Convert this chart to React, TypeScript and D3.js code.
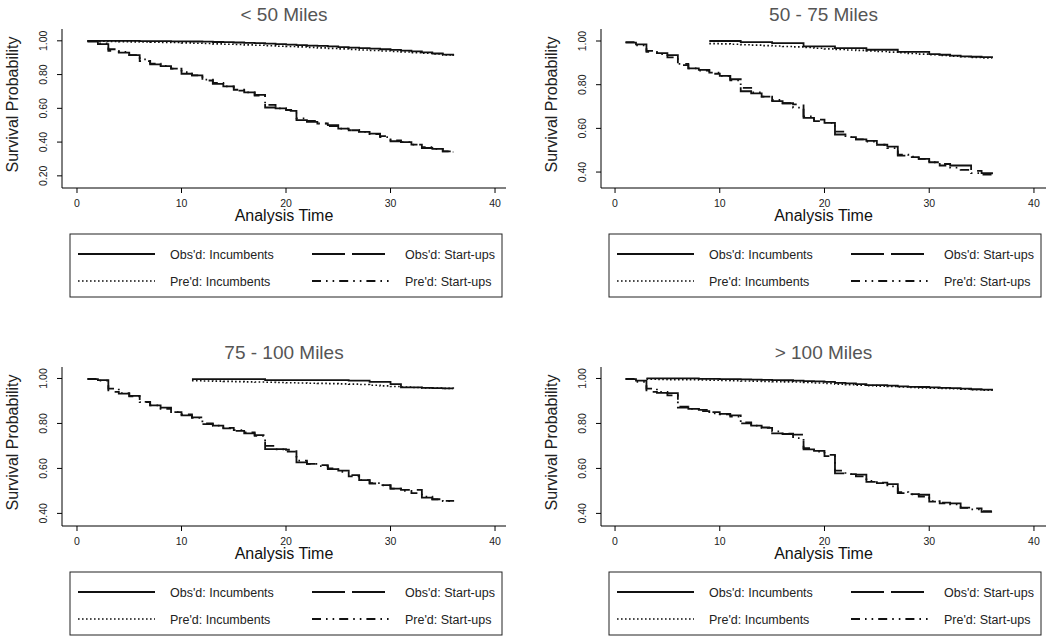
import React from "react";
import * as d3 from "d3";

const times = [1,2,3,4,5,6,7,8,9,10,11,12,13,14,15,16,17,18,19,20,21,22,23,24,25,26,27,28,29,30,31,32,33,34,35,36];
const xTicks = [0, 10, 20, 30, 40];
const panelTitles = ["< 50 Miles", "50 - 75 Miles", "75 - 100 Miles", "> 100 Miles"];
const yTicksList = [[0.2, 0.4, 0.6, 0.8, 1.0], [0.4, 0.6, 0.8, 1.0], [0.4, 0.6, 0.8, 1.0], [0.4, 0.6, 0.8, 1.0]];
const yDomains = [[0.128, 1.07], [0.327, 1.055], [0.344, 1.051], [0.344, 1.051]];
const legendLabels = ["Obs'd: Incumbents", "Obs'd: Start-ups", "Pre'd: Incumbents", "Pre'd: Start-ups"];

const N = null;
// < 50 Miles
const obsInc50 = [1.0,1.0,1.0,1.0,1.0,0.998,0.998,0.998,0.997,0.997,0.996,0.995,0.993,0.992,0.99,0.988,0.986,0.983,0.98,0.978,0.975,0.972,0.97,0.967,0.963,0.96,0.957,0.954,0.95,0.946,0.942,0.937,0.932,0.925,0.918,0.912];
const predInc50 = [1.0,0.998,0.996,0.995,0.994,0.993,0.992,0.991,0.99,0.988,0.986,0.984,0.982,0.98,0.978,0.976,0.974,0.971,0.968,0.966,0.964,0.961,0.958,0.955,0.952,0.949,0.946,0.943,0.94,0.937,0.934,0.93,0.926,0.922,0.917,0.912];
const obsSU50 = [0.995,0.98,0.94,0.93,0.915,0.88,0.86,0.85,0.835,0.805,0.795,0.765,0.745,0.73,0.705,0.695,0.68,0.605,0.6,0.59,0.53,0.52,0.51,0.5,0.48,0.47,0.46,0.45,0.435,0.405,0.4,0.385,0.365,0.36,0.345,0.345];
const predSU50 = [0.998,0.985,0.95,0.935,0.915,0.89,0.865,0.852,0.835,0.815,0.795,0.77,0.75,0.73,0.71,0.695,0.675,0.62,0.6,0.585,0.54,0.525,0.51,0.495,0.48,0.47,0.46,0.448,0.43,0.41,0.4,0.385,0.37,0.36,0.345,0.34];
// 50 - 75 Miles
const obsInc75 = [N,N,N,N,N,N,N,N,1.0,1.0,1.0,0.995,0.995,0.995,0.99,0.99,0.99,0.975,0.975,0.975,0.967,0.967,0.967,0.96,0.96,0.96,0.95,0.95,0.95,0.94,0.937,0.933,0.93,0.928,0.926,0.925];
const predInc75 = [N,N,N,N,N,N,N,N,0.988,0.987,0.985,0.983,0.981,0.979,0.977,0.975,0.973,0.97,0.967,0.964,0.961,0.959,0.957,0.955,0.952,0.949,0.946,0.943,0.94,0.937,0.934,0.931,0.928,0.925,0.923,0.921];
const obsSU75 = [0.993,0.985,0.95,0.945,0.935,0.89,0.875,0.868,0.85,0.84,0.825,0.77,0.76,0.745,0.725,0.715,0.71,0.648,0.633,0.625,0.572,0.56,0.55,0.543,0.525,0.516,0.475,0.468,0.46,0.445,0.437,0.43,0.43,0.405,0.395,0.39];
const predSU75 = [0.995,0.98,0.955,0.94,0.925,0.895,0.875,0.865,0.855,0.84,0.82,0.785,0.765,0.745,0.73,0.715,0.695,0.655,0.64,0.625,0.585,0.56,0.55,0.54,0.525,0.51,0.48,0.47,0.46,0.445,0.43,0.42,0.41,0.395,0.388,0.382];
// 75 - 100 Miles
const obsInc100 = [N,N,N,N,N,N,N,N,N,N,0.997,0.997,0.997,0.997,0.997,0.997,0.997,0.993,0.993,0.993,0.993,0.993,0.993,0.993,0.993,0.99,0.99,0.985,0.985,0.975,0.96,0.96,0.958,0.957,0.956,0.955];
const predInc100 = [N,N,N,N,N,N,N,N,N,N,0.99,0.989,0.988,0.987,0.986,0.985,0.984,0.983,0.982,0.981,0.98,0.979,0.978,0.977,0.976,0.975,0.973,0.97,0.967,0.964,0.962,0.96,0.958,0.957,0.956,0.955];
const obsSU100 = [0.997,0.993,0.94,0.933,0.923,0.896,0.88,0.87,0.85,0.836,0.827,0.797,0.79,0.778,0.767,0.756,0.748,0.686,0.686,0.683,0.627,0.62,0.615,0.597,0.59,0.57,0.548,0.533,0.526,0.51,0.505,0.505,0.47,0.463,0.456,0.452];
const predSU100 = [0.998,0.99,0.955,0.935,0.92,0.895,0.88,0.865,0.85,0.84,0.825,0.8,0.79,0.78,0.77,0.76,0.745,0.7,0.685,0.675,0.635,0.62,0.61,0.6,0.585,0.565,0.548,0.535,0.525,0.51,0.5,0.49,0.475,0.462,0.455,0.448];
// > 100 Miles
const obsIncOver = [N,N,1.0,1.0,1.0,1.0,1.0,0.998,0.998,0.997,0.997,0.996,0.995,0.994,0.993,0.992,0.99,0.988,0.987,0.985,0.98,0.978,0.975,0.97,0.97,0.968,0.965,0.963,0.962,0.96,0.958,0.957,0.955,0.952,0.95,0.945];
const predIncOver = [N,N,0.997,0.996,0.995,0.995,0.994,0.993,0.992,0.991,0.99,0.989,0.988,0.987,0.986,0.985,0.984,0.982,0.98,0.978,0.975,0.972,0.97,0.968,0.966,0.964,0.962,0.96,0.958,0.957,0.956,0.954,0.952,0.95,0.948,0.945];
const obsSUOver = [0.997,0.99,0.94,0.936,0.935,0.87,0.865,0.86,0.85,0.843,0.836,0.8,0.79,0.782,0.756,0.753,0.75,0.685,0.678,0.66,0.578,0.575,0.572,0.54,0.537,0.53,0.49,0.486,0.483,0.452,0.448,0.445,0.426,0.422,0.407,0.407];
const predSUOver = [0.998,0.985,0.955,0.94,0.925,0.875,0.865,0.855,0.845,0.84,0.83,0.805,0.79,0.78,0.765,0.755,0.735,0.69,0.675,0.655,0.59,0.575,0.565,0.545,0.535,0.52,0.495,0.485,0.475,0.455,0.445,0.44,0.425,0.418,0.41,0.405];

const panelSeries = [
  [obsInc50, obsSU50, predInc50, predSU50],
  [obsInc75, obsSU75, predInc75, predSU75],
  [obsInc100, obsSU100, predInc100, predSU100],
  [obsIncOver, obsSUOver, predIncOver, predSUOver],
];

// styles: obs inc, obs start-ups, pred inc, pred start-ups
const dashes = ["", "33 7", "1.6 2.4", "9 5 1.6 5 1.6 5"];
const widths = [1.8, 1.8, 1.6, 1.8];

const FONT = "'Liberation Sans', Arial, Helvetica, sans-serif";

function Panel({ idx }: { idx: number }) {
  const col = idx % 2;
  const row = Math.floor(idx / 2);
  const left = 62 + col * 539;
  const right = 506 + col * 540;
  const top = 29 + row * 338;
  const bottom = 188 + row * 338;

  const x = d3.scaleLinear().domain(col === 0 ? [-1.435, 41.05] : [-1.34, 41.15]).range([left, right]);
  const y = d3.scaleLinear().domain(yDomains[idx]).range([bottom, top]);
  const fmt = d3.format(".2f");

  const line = d3
    .line<{ t: number; v: number | null }>()
    .defined((d) => d.v != null)
    .x((d) => x(d.t))
    .y((d) => y(d.v as number))
    .curve(d3.curveStepAfter);

  const series = panelSeries[idx];
  const drawOrder = [2, 3, 0, 1];

  const lx = left;
  const ly = bottom;
  const legendItems = [0, 1, 2, 3];

  return (
    <g>
      <text x={(left + right) / 2} y={top - 8} textAnchor="middle" fontSize={19} fill="#555" fontFamily={FONT}>
        {panelTitles[idx]}
      </text>
      {/* axes */}
      <line x1={left} x2={left} y1={top} y2={bottom} stroke="#000" strokeWidth={1} />
      <line x1={left} x2={right} y1={bottom} y2={bottom} stroke="#000" strokeWidth={1} />
      {yTicksList[idx].map((t) => (
        <g key={"y" + t}>
          <line x1={left - 5} x2={left} y1={y(t)} y2={y(t)} stroke="#000" />
          <text
            transform={`translate(${left - 15},${y(t)}) rotate(-90)`}
            textAnchor="middle"
            fontSize={10.5}
            fill="#222"
            fontFamily={FONT}
          >
            {fmt(t)}
          </text>
        </g>
      ))}
      {xTicks.map((t) => (
        <g key={"x" + t}>
          <line x1={x(t)} x2={x(t)} y1={bottom} y2={bottom + 5} stroke="#000" />
          <text x={x(t)} y={bottom + 19} textAnchor="middle" fontSize={10.5} fill="#222" fontFamily={FONT}>
            {t}
          </text>
        </g>
      ))}
      <text x={(left + right) / 2} y={bottom + 33} textAnchor="middle" fontSize={16} fill="#111" fontFamily={FONT}>
        Analysis Time
      </text>
      <text
        transform={`translate(${left - 44},${(top + bottom) / 2 - 4}) rotate(-90)`}
        textAnchor="middle"
        fontSize={16}
        fill="#222"
        fontFamily={FONT}
      >
        Survival Probability
      </text>
      {/* curves */}
      {drawOrder.map((s) => (
        <path
          key={"s" + s}
          d={line(times.map((t, i) => ({ t, v: series[s][i] }))) || ""}
          fill="none"
          stroke="#111"
          strokeWidth={widths[s]}
          strokeDasharray={dashes[s] || undefined}
        />
      ))}
      {/* legend */}
      <rect x={lx + 8} y={ly + 46} width={432} height={63} fill="#fff" stroke="#222" strokeWidth={1} />
      {legendItems.map((s) => {
        const c = s % 2;
        const r = Math.floor(s / 2);
        const rowY = ly + 66 + r * 27;
        const x1 = lx + (c === 0 ? 16 : 250);
        const tx = lx + (c === 0 ? 108 : 343);
        return (
          <g key={"l" + s}>
            <line x1={x1} x2={x1 + 77} y1={rowY} y2={rowY} stroke="#111" strokeWidth={widths[s]} strokeDasharray={dashes[s] || undefined} />
            <text x={tx} y={rowY + 4.5} fontSize={12.5} fill="#222" fontFamily={FONT}>
              {legendLabels[s]}
            </text>
          </g>
        );
      })}
    </g>
  );
}

export default function App() {
  return (
    <svg width={1054} height={637} style={{ position: "absolute", left: 0, top: 0, background: "#fff" }}>
      <rect width={1054} height={637} fill="#fff" />
      {[0, 1, 2, 3].map((i) => (
        <Panel key={i} idx={i} />
      ))}
    </svg>
  );
}
